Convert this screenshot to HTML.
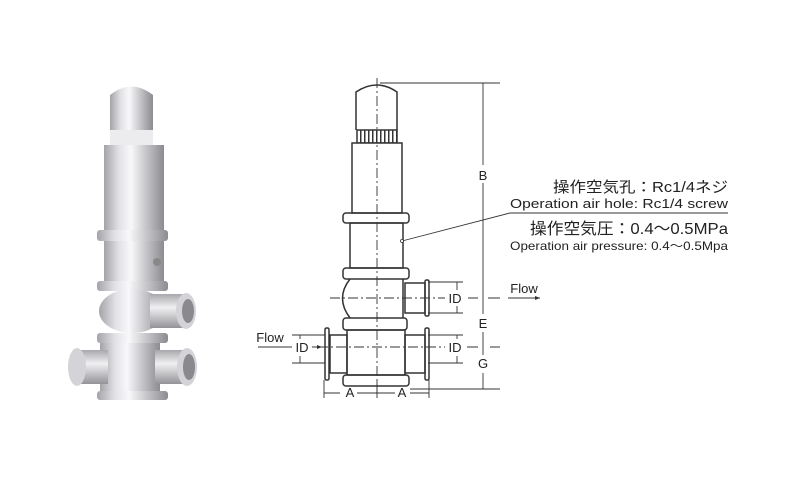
<!DOCTYPE html>
<html><head><meta charset="utf-8"><style>
html,body{margin:0;padding:0;background:#fff;width:800px;height:500px;overflow:hidden}
svg{display:block}
text{font-family:"Liberation Sans","Noto Sans CJK JP",sans-serif;fill:#222}
</style></head><body>
<svg width="800" height="500" viewBox="0 0 800 500" xmlns="http://www.w3.org/2000/svg">
<defs>
<linearGradient id="m" x1="0" x2="1" y1="0" y2="0">
<stop offset="0" stop-color="#a4a4a8"/><stop offset="0.25" stop-color="#e2e2e6"/><stop offset="0.45" stop-color="#f8f8fa"/><stop offset="0.7" stop-color="#c6c6ca"/><stop offset="1" stop-color="#8c8c90"/>
</linearGradient>
<linearGradient id="mv" x1="0" x2="0" y1="0" y2="1">
<stop offset="0" stop-color="#a8a8ac"/><stop offset="0.4" stop-color="#f0f0f2"/><stop offset="1" stop-color="#949498"/>
</linearGradient>
<pattern id="kn" width="4" height="13" patternUnits="userSpaceOnUse"><rect width="4" height="13" fill="#fff"/><rect width="1.5" height="13" fill="#333"/></pattern>
</defs>
<!-- photo -->
<g stroke="none">
<path d="M110 130 L110 95 Q131 78 153 95 L153 130 Z" fill="url(#m)"/>
<rect x="110" y="130" width="43" height="15" fill="#ececef"/>
<rect x="104" y="145" width="60" height="85" fill="url(#m)"/>
<rect x="97" y="230" width="71" height="11" rx="3" fill="url(#m)"/>
<rect x="104" y="241" width="60" height="40" fill="url(#m)"/>
<circle cx="157" cy="262" r="4" fill="#888"/>
<rect x="97" y="281" width="71" height="10" rx="3" fill="url(#m)"/>
<ellipse cx="132" cy="311" rx="33" ry="22" fill="url(#m)"/>
<rect x="150" y="294" width="35" height="34" fill="url(#mv)"/>
<ellipse cx="186" cy="311" rx="10" ry="18" fill="#d4d4d8"/>
<ellipse cx="188" cy="311" rx="6" ry="12" fill="#8a8a8e"/>
<rect x="97" y="333" width="71" height="10" rx="3" fill="url(#m)"/>
<rect x="100" y="343" width="60" height="48" fill="url(#m)"/>
<rect x="78" y="350" width="30" height="34" fill="url(#mv)"/>
<ellipse cx="77" cy="367" rx="9" ry="19" fill="#d4d4d8"/>
<rect x="155" y="350" width="32" height="34" fill="url(#mv)"/>
<ellipse cx="187" cy="367" rx="10" ry="19" fill="#d4d4d8"/>
<ellipse cx="189" cy="367" rx="6" ry="13" fill="#8a8a8e"/>
<rect x="97" y="391" width="71" height="9" rx="3" fill="url(#m)"/>
</g>
<!-- drawing -->
<g fill="none" stroke="#333" stroke-width="1.5">
<path d="M356 130 L356 92 Q377 78 397 92 L397 130"/>
<rect x="357" y="130" width="40" height="13" fill="url(#kn)"/>
<rect x="352" y="143" width="50" height="70" fill="#fff"/>
<rect x="343" y="213" width="66" height="10" rx="3"/>
<rect x="350" y="223" width="53" height="45"/>
<rect x="343" y="268" width="66" height="11" rx="3"/>
<path d="M350 279 Q335 298 350 318 M403 279 L403 318"/>
<rect x="405" y="283" width="20" height="30"/>
<rect x="425" y="280" width="4" height="36" rx="1.5"/>
<rect x="343" y="318" width="64" height="12" rx="3"/>
<rect x="347" y="330" width="58" height="45"/>
<rect x="330" y="335" width="17" height="38"/>
<rect x="325" y="328" width="4" height="52" rx="1.5"/>
<rect x="405" y="335" width="20" height="38"/>
<rect x="425" y="328" width="4" height="52" rx="1.5"/>
<rect x="343" y="375" width="66" height="11" rx="3"/>
</g>
<g stroke="#333" stroke-width="0.9" fill="none">
<path d="M377 78 V398" stroke-dasharray="10 3 2 3"/>
<path d="M330 298 H465 M300 347 H470" stroke-dasharray="10 3 2 3"/>
<path d="M380 83 H500 M490 298 H500 M490 347 H500 M410 389 H500"/>
<path d="M483 83 V389"/>
<path d="M428 282 H463 M428 313 H463 M457 282 V290 M457 306 V313"/>
<path d="M428 335 H463 M428 363 H463 M457 335 V340 M457 356 V363"/>
<path d="M292 335 H325 M292 363 H325 M300 335 V340 M300 356 V363"/>
<path d="M468 298 H478 M488 298 H500 M468 347 H478"/>
<path d="M324 380 V398 M377 380 V398 M429 380 V398 M324 393 H340 M357 393 H395 M410 393 H429"/>
<path d="M508 298 H540 M258 347 H322"/>
<path d="M402 241 L510 213 H728"/>
</g>
<g fill="#333">
<path d="M540 298 l-5 -2 v4z M322 347 l-5 -2 v4z"/>
</g>
<circle cx="402" cy="241" r="1.5" fill="#fff" stroke="#333" stroke-width="0.8"/>
<g font-size="13" text-anchor="middle">
<rect x="476" y="165" width="14" height="18" fill="#fff"/>
<text x="483" y="180">B</text>
<rect x="476" y="314" width="14" height="18" fill="#fff"/>
<text x="483" y="328">E</text>
<rect x="476" y="355" width="14" height="18" fill="#fff"/>
<text x="483" y="368">G</text>
<rect x="445" y="290" width="22" height="16" fill="#fff"/>
<text x="455" y="303">ID</text>
<rect x="445" y="339" width="22" height="16" fill="#fff"/>
<text x="455" y="352">ID</text>
<rect x="292" y="339" width="20" height="16" fill="#fff"/>
<text x="302" y="352">ID</text>
<text x="350" y="397">A</text>
<text x="402" y="397">A</text>
<text x="524" y="293">Flow</text>
<text x="270" y="342">Flow</text>
</g>
<g>
<text x="553" y="192" font-size="15" textLength="175" lengthAdjust="spacingAndGlyphs">操作空気孔：Rc1/4ネジ</text>
<text x="510" y="208" font-size="13" textLength="218" lengthAdjust="spacingAndGlyphs">Operation air hole: Rc1/4 screw</text>
<text x="530" y="234" font-size="16" textLength="198" lengthAdjust="spacingAndGlyphs">操作空気圧：0.4～0.5MPa</text>
<text x="510" y="250" font-size="12" textLength="218" lengthAdjust="spacingAndGlyphs">Operation air pressure: 0.4～0.5Mpa</text>
</g>
</svg>
</body></html>
